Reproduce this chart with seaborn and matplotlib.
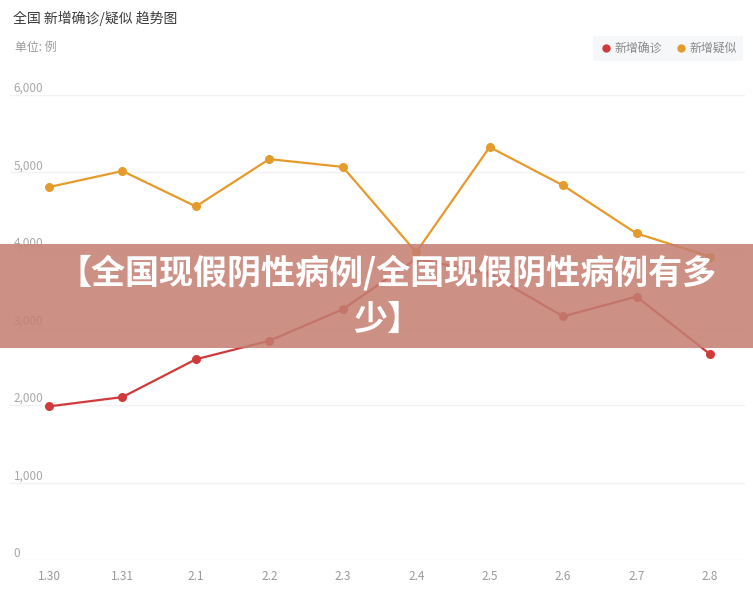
import pandas as pd
import seaborn as sns
import matplotlib.pyplot as plt
from matplotlib.patches import Rectangle
from matplotlib.lines import Line2D

# data
dates = ['1.30', '1.31', '2.1', '2.2', '2.3', '2.4', '2.5', '2.6', '2.7', '2.8']
confirmed = [1982, 2102, 2590, 2829, 3235, 3887, 3694, 3143, 3399, 2656]
suspected = [4812, 5019, 4562, 5173, 5072, 3971, 5328, 4833, 4214, 3916]
series_names = ['新增确诊', '新增疑似']
y_ticks = [0, 1000, 2000, 3000, 4000, 5000, 6000]

df = pd.DataFrame({
    'date': dates * 2,
    'value': confirmed + suspected,
    'series': [series_names[0]] * len(dates) + [series_names[1]] * len(dates),
})

colors = {'新增确诊': '#d13a3a', '新增疑似': '#e59b2b'}

sns.set_theme(style='white')
plt.rcParams['font.family'] = ['Noto Sans CJK SC', 'DejaVu Sans']

W, H = 753, 592
fig = plt.figure(figsize=(W / 100, H / 100), dpi=100)
ax = fig.add_axes([10 / W, (H - 560) / H, 735 / W, (560 - 95) / H])

sns.lineplot(data=df, x='date', y='value', hue='series', palette=colors,
             marker='o', markersize=6.5, markeredgewidth=0, linewidth=1.6,
             sort=False, ax=ax, legend=False, clip_on=False)

ax.set_xlim(-0.531, 9.477)
ax.set_ylim(0, 6000)
ax.set_yticks(y_ticks)
ax.set_yticklabels([f'{v:,}' for v in y_ticks])
ax.set_xlabel('')
ax.set_ylabel('')
ax.grid(axis='y', color='#f2f2f2', linewidth=1)
ax.grid(axis='x', visible=False)
for s in ax.spines.values():
    s.set_visible(False)
ax.tick_params(axis='y', length=0, pad=-2.5, labelsize=8.5, colors='#a8a8a8')
ax.tick_params(axis='x', length=0, pad=7, labelsize=8.5, colors='#999999')
for lab in ax.get_yticklabels():
    lab.set_horizontalalignment('left')
    lab.set_verticalalignment('bottom')

# title and unit
fig.text(13 / W, 1 - 18 / H, '全国 新增确诊/疑似 趋势图', fontsize=10,
         color='#3a3a3a', va='center', ha='left')
fig.text(15 / W, 1 - 47 / H, '单位: 例', fontsize=8.6, color='#9a9a9a',
         va='center', ha='left')

# legend
handles = [Line2D([], [], linestyle='none', marker='o', markersize=6,
                  markeredgewidth=0, color=colors[n]) for n in series_names]
leg = fig.legend(handles, series_names, loc='center',
                 bbox_to_anchor=(668 / W, 1 - 48.5 / H), ncol=2, fontsize=8.6,
                 frameon=True, handletextpad=0.1, columnspacing=1.0,
                 borderpad=0.5, handlelength=1.2, fancybox=True)
leg.get_frame().set_facecolor('#f4f5f7')
leg.get_frame().set_edgecolor('none')
for t in leg.get_texts():
    t.set_color('#888888')

# overlay banner
fig.patches.append(Rectangle((0, 1 - 348 / H), 1, 104 / H,
                             transform=fig.transFigure, facecolor='#c47e71',
                             alpha=0.86, edgecolor='none', zorder=5))
fig.text(387 / W, 1 - 296 / H, '【全国现假阴性病例/全国现假阴性病例有多\n少】',
         fontsize=24.5, fontweight='bold', color='white', ha='center',
         va='center', multialignment='center', linespacing=1.42, zorder=6)

fig.savefig('out.png', dpi=100)
